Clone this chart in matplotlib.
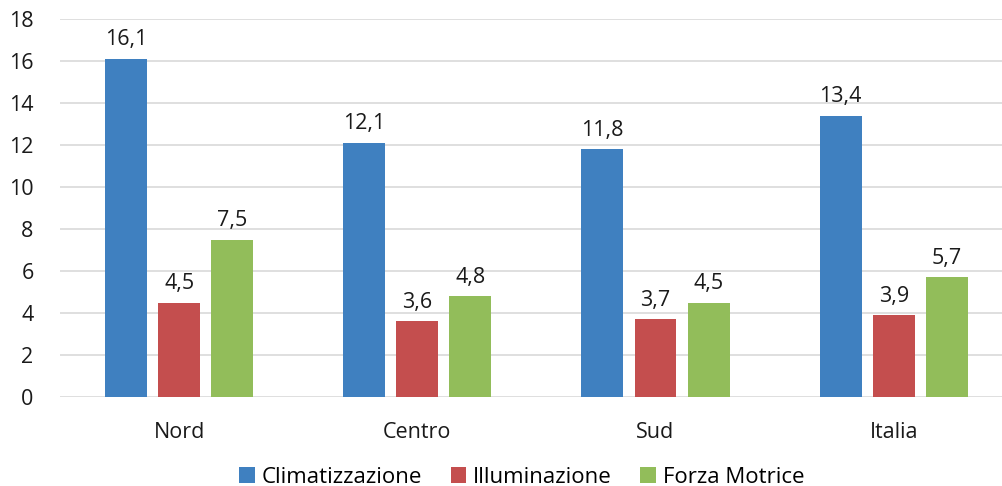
import numpy as np
import matplotlib
matplotlib.use('Agg')
import matplotlib.pyplot as plt

# --- DATA ---
regions = ["Nord", "Centro", "Sud", "Italia"]
series_names = ["Climatizzazione", "Illuminazione", "Forza Motrice"]
climatizzazione = [16.1, 12.1, 11.8, 13.4]
illuminazione = [4.5, 3.6, 3.7, 3.9]
forza_motrice = [7.5, 4.8, 4.5, 5.7]
colors = ['#3F80C0', '#C44E4E', '#92BD5A']

plt.rcParams['font.family'] = ['Open Sans', 'DejaVu Sans']

fig = plt.figure(figsize=(10.03, 4.86), dpi=100)
ax = fig.add_axes([0.0598, 0.183, 0.950, 0.778])

x = np.arange(len(regions))
width = 0.176
step = 0.223

for i, (vals, name, col) in enumerate(zip([climatizzazione, illuminazione, forza_motrice], series_names, colors)):
    pos = x + (i - 1) * step
    ax.bar(pos, vals, width=width, color=col, label=name, zorder=2)
    for px, v in zip(pos, vals):
        ax.text(px, v + 0.4, f"{v:.1f}".replace('.', ','), ha='center', va='bottom',
                fontsize=15.5, color='#1a1a1a')

ax.set_ylim(0, 18)
ax.set_xlim(-0.5, 3.5)
ax.set_yticks(range(0, 19, 2))
ax.set_xticks(x)
ax.set_xticklabels(regions)
ax.tick_params(axis='both', length=0, labelsize=15.5, colors='#1a1a1a')
ax.tick_params(axis='x', pad=18)
ax.tick_params(axis='y', pad=19)
ax.grid(axis='y', color='#D9D9D9', linewidth=1.2, zorder=0)
for s in ax.spines.values():
    s.set_visible(False)

fig.legend(loc='lower center', bbox_to_anchor=(0.52, -0.045), ncol=3, frameon=False,
           fontsize=16, handlelength=0.7, handleheight=0.7, handletextpad=0.3,
           columnspacing=1.3)

fig.savefig('out.png', dpi=100)
